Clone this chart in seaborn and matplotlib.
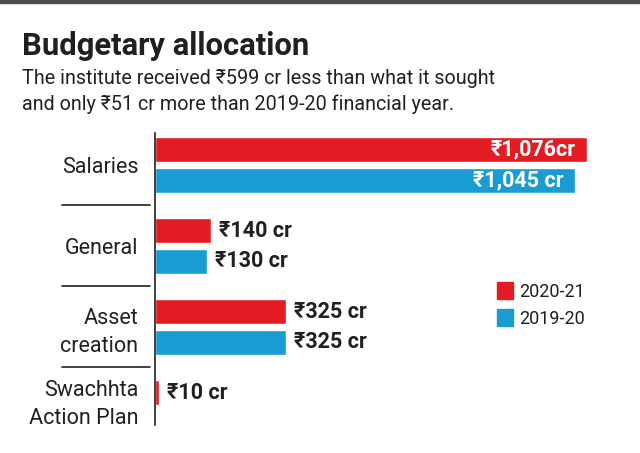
import pandas as pd
import matplotlib
matplotlib.use("Agg")
import matplotlib.pyplot as plt
import matplotlib.transforms as mtransforms
from matplotlib.patches import Patch
import seaborn as sns

# data
categories = ["Salaries", "General", "Asset\ncreation", "Swachhta\nAction Plan"]
years = ["2020-21", "2019-20"]
values_2021 = [1076, 140, 325, 10]
values_2020 = [1045, 130, 325, None]
labels_2021 = ["₹1,076cr", "₹140 cr", "₹325 cr", "₹10 cr"]
labels_2020 = ["₹1,045 cr", "₹130 cr", "₹325 cr", ""]

red = "#E31B23"
blue = "#1A9CD2"
ink = "#231F20"

df = pd.DataFrame({
    "category": categories * 2,
    "value": values_2021 + values_2020,
    "year": [years[0]] * 4 + [years[1]] * 4,
})

sns.set_style("white")
plt.rcParams["font.family"] = ["Roboto", "DejaVu Sans"]

W, H = 640, 453
fig = plt.figure(figsize=(6.4, 4.53), dpi=100)

# axes placed in pixel terms
ax = fig.add_axes([155 / W, 1 - 425 / H, 445 / W, (425 - 133) / H])
sns.barplot(data=df, y="category", x="value", hue="year", orient="h",
            palette=[red, blue], saturation=1, width=0.75, gap=0.17, ax=ax,
            legend=False)

ax.set_xlim(0, 1108)
ax.set_ylim(3.21, -0.395)
ax.set_xlabel("")
ax.set_ylabel("")
ax.set_xticks([])
for s in ["top", "right", "bottom"]:
    ax.spines[s].set_visible(False)
ax.spines["left"].set_color(ink)
ax.spines["left"].set_linewidth(1.2)
ax.tick_params(axis="y", length=0, pad=12, labelsize=15.5, labelcolor=ink)

# multi-line labels: looser spacing, last one nudged up
for i, lab in enumerate(ax.get_yticklabels()):
    lab.set_linespacing(1.4)
    if i == 3:
        lab.set_transform(lab.get_transform() +
                          mtransforms.ScaledTranslation(0, 0.09, fig.dpi_scale_trans))

# value labels
for cont, labs in zip(ax.containers, [labels_2021, labels_2020]):
    for bar, lab in zip(cont, labs):
        if not lab:
            continue
        w = bar.get_width()
        yc = bar.get_y() + bar.get_height() / 2
        if w > 800:
            ax.text(w - 28, yc, lab, ha="right", va="center", color="white",
                    fontsize=15.5, fontweight="bold")
        else:
            ax.text(w + 20, yc, lab, ha="left", va="center", color=ink,
                    fontsize=15.5, fontweight="bold")

# separators between groups
trans = mtransforms.blended_transform_factory(ax.transAxes, ax.transData)
for yy in [0.5, 1.5, 2.5]:
    ax.plot([(62 - 155) / 445, (150 - 155) / 445], [yy, yy], color=ink,
            lw=1.2, transform=trans, clip_on=False)

# legend
handles = [Patch(color=red), Patch(color=blue)]
fig.legend(handles, years, loc="upper left", bbox_to_anchor=(488 / W, 1 - 273 / H),
           frameon=False, fontsize=13, handlelength=0.9, handleheight=1.1,
           handletextpad=0.3, labelspacing=0.45, borderpad=0, labelcolor=ink)

# title and subtitle
fig.text(22 / W, 1 - 55 / H, "Budgetary allocation", fontsize=22.3, fontweight="bold",
         color=ink, va="baseline")
fig.text(22 / W, 1 - 84 / H, "The institute received ₹599 cr less than what it sought",
         fontsize=14.2, color=ink, va="baseline")
fig.text(22 / W, 1 - 110 / H, "and only ₹51 cr more than 2019-20 financial year.",
         fontsize=14.2, color=ink, va="baseline")

# dark band at top
fig.patches.append(plt.Rectangle((0, 1 - 3 / H), 1, 3 / H, transform=fig.transFigure,
                                 color="#4D4D4D", zorder=10))

fig.savefig("out.png", dpi=100)
